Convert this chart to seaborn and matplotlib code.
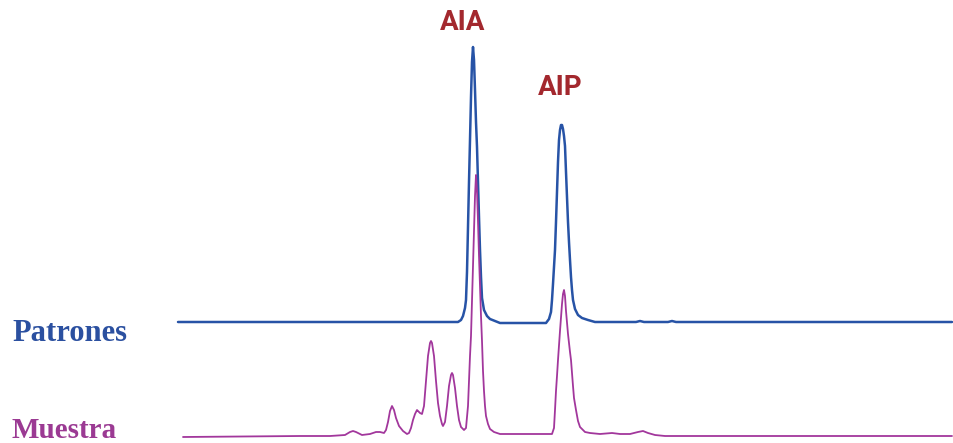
import matplotlib
matplotlib.use("Agg")
import matplotlib.pyplot as plt
import seaborn as sns
import pandas as pd

sns.set_theme(style="white")

# retention time (px scale) and signal above baseline
patrones_t = [178, 300, 440, 458, 461, 463, 465, 466, 467, 468, 469, 470, 471, 472, 473,
              474, 475, 476, 477, 478, 479, 480, 481, 482, 484, 487, 490, 495, 500,
              530, 546, 549, 551, 552, 553, 554, 555, 556, 557, 558, 559, 560, 561, 562,
              563, 564, 565, 566, 567, 568, 569, 570, 571, 572, 573, 575, 578, 582, 588,
              595, 620, 636, 640, 644, 668, 672, 676, 750, 850, 895, 900, 952]
patrones_s = [0, 0, 0, 0, 2, 6, 14, 22, 50, 95, 140, 182, 225, 260, 275,
              262, 232, 200, 175, 140, 105, 72, 45, 24, 12, 6, 3, 1, -1,
              -1, -1, 3, 10, 22, 38, 55, 72, 100, 130, 160, 182, 192, 197, 197,
              193, 186, 176, 150, 125, 100, 80, 62, 45, 32, 22, 13, 7, 4, 2,
              0, 0, 0, 1, 0, 0, 1, 0, 0, 0, 0, 0, 0]

muestra_t = [183, 300, 330, 345, 350, 353, 356, 362, 370, 376, 380, 384, 386, 388, 390,
             392, 394, 396, 399, 403, 407, 409, 411, 413, 415, 417, 418, 420, 422, 424,
             426, 428, 430, 431, 432, 434, 436, 438, 440, 442, 443, 445, 447, 449, 451,
             452, 453, 455, 457, 459, 461, 464, 466, 468, 469, 470, 471, 472, 473, 474,
             475, 476, 477, 478, 479, 480, 481, 482, 483, 484, 485, 486, 488, 490, 494,
             500, 520, 540, 552, 554, 555, 556, 557, 558, 560, 562, 563, 564, 565, 566,
             568, 570, 571, 573, 574, 576, 578, 580, 585, 590, 600, 612, 620, 630, 638,
             643, 648, 655, 665, 750, 850, 952]
muestra_s = [-1, 0, 0, 1, 4, 5, 4, 1, 2, 4, 4, 3, 6, 14, 25,
             30, 26, 18, 10, 5, 2, 3, 8, 16, 22, 26, 25, 23, 22, 30,
             55, 80, 93, 95, 93, 80, 55, 33, 20, 12, 10, 14, 30, 50, 61,
             63, 61, 48, 30, 16, 9, 6, 8, 30, 55, 80, 100, 135, 170, 205,
             240, 261, 245, 215, 180, 150, 120, 95, 65, 45, 30, 20, 12, 7, 4,
             2, 2, 2, 2, 8, 26, 45, 60, 76, 105, 132, 142, 146, 140, 125,
             102, 84, 76, 50, 38, 26, 15, 9, 4, 3, 2, 3, 2, 2, 4,
             5, 3, 1, 0, 0, 0, 0]

labels = ["Patrones", "Muestra"]
peak_names = ["AIA", "AIP"]

blue = "#2753a6"
magenta = "#a2379c"
red = "#a3282e"

df = pd.concat([
    pd.DataFrame({"t": patrones_t, "s": [v + 121 for v in patrones_s], "trace": labels[0]}),
    pd.DataFrame({"t": muestra_t, "s": [v + 7 for v in muestra_s], "trace": labels[1]}),
])

fig = plt.figure(figsize=(9.54, 4.43), dpi=100)
ax = fig.add_axes([0, 0, 1, 1])

sns.lineplot(data=df[df.trace == labels[0]], x="t", y="s", color=blue, lw=1.8,
             estimator=None, sort=False, ax=ax, legend=False)
sns.lineplot(data=df[df.trace == labels[1]], x="t", y="s", color=magenta, lw=1.3,
             estimator=None, sort=False, ax=ax, legend=False)

ax.set_xlim(0, 954)
ax.set_ylim(0, 443)
ax.axis("off")

ax.text(463, 421, peak_names[0], color=red, fontsize=20, fontweight="bold",
        family="Roboto", ha="center", va="center")
ax.text(560, 356, peak_names[1], color=red, fontsize=20, fontweight="bold",
        family="Roboto", ha="center", va="center")

ax.text(12, 102, labels[0], color="#2b50a0", fontsize=22, fontweight="bold",
        family="Liberation Serif", ha="left", va="baseline")
ax.text(12, 5, labels[1], color="#9b3a93", fontsize=21, fontweight="bold",
        family="Liberation Serif", ha="left", va="baseline")

fig.savefig("out.png", dpi=100)
